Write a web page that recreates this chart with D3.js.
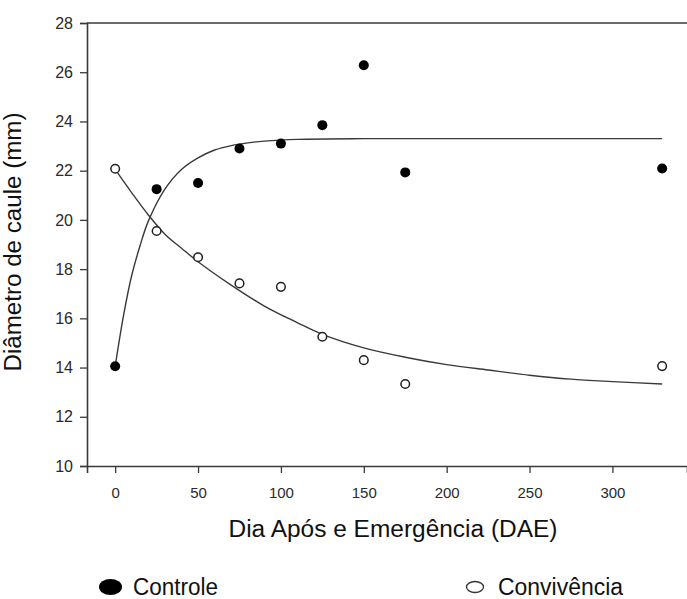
<!DOCTYPE html>
<html>
<head>
<meta charset="utf-8">
<script src="https://cdn.jsdelivr.net/npm/d3@7"></script>
<style>
  body { margin: 0; background: #fff; }
  svg { display: block; font-family: "Liberation Sans", Arial, sans-serif; }
</style>
</head>
<body>
<div id="container"></div>
<script>
// data
const days = [0, 25, 50, 75, 100, 125, 150, 175, 330]
const controle = [14.05, 21.25, 21.5, 22.9, 23.1, 23.85, 26.28, 21.93, 22.09]
const convivencia = [22.08, 19.55, 18.48, 17.42, 17.28, 15.25, 14.3, 13.33, 14.06]

// fitted curves
const fitDaysControle = [0, 5, 10, 15, 20, 30, 40, 50, 60, 70, 80, 90, 110, 150, 200, 250, 330]
const fitControle = [14.05, 16.1, 17.75, 18.95, 19.95, 21.25, 22.05, 22.52, 22.84, 23.02, 23.13, 23.2, 23.27, 23.3, 23.3, 23.3, 23.3]
const fitDaysConv = [0, 10, 20, 30, 40, 50, 70, 90, 110, 125, 150, 175, 200, 225, 250, 275, 300, 330]
const fitConv = [22.05, 21.1, 20.2, 19.42, 18.85, 18.3, 17.35, 16.5, 15.82, 15.35, 14.8, 14.42, 14.12, 13.9, 13.69, 13.53, 13.43, 13.33]

const xTicks = [0, 50, 100, 150, 200, 250, 300]
const yTicks = [10, 12, 14, 16, 18, 20, 22, 24, 26, 28]

const width = 687, height = 599
const margin = { top: 23, right: 0, bottom: 133, left: 87 }

const svg = d3.select("#container")
	.append("svg")
	.attr("width", width)
	.attr("height", height)

const x = d3.scaleLinear().domain([-17, 345]).range([margin.left, width - margin.right])
const y = d3.scaleLinear().domain([10, 28]).range([height - margin.bottom, margin.top])

const ink = "#3a3a3a"

// axes
const gx = svg.append("g")
	.attr("transform", `translate(0,${y(10)})`)
	.call(d3.axisBottom(x).tickValues(xTicks).tickSizeOuter(0).tickSize(7).tickPadding(14))
gx.select(".domain").attr("stroke", ink).attr("stroke-width", 1.6)
gx.selectAll(".tick line").attr("stroke", ink).attr("stroke-width", 1.3)
gx.selectAll(".tick text").attr("font-size", 15).attr("fill", "#2a2a2a").attr("font-family", "Liberation Sans, Arial")

const gy = svg.append("g")
	.attr("transform", `translate(${x(-17)},0)`)
	.call(d3.axisLeft(y).tickValues(yTicks).tickSizeOuter(0).tickSize(7).tickPadding(7))
gy.select(".domain").attr("stroke", ink).attr("stroke-width", 1.6)
gy.selectAll(".tick line").attr("stroke", ink).attr("stroke-width", 1.3)
gy.selectAll(".tick text").attr("font-size", 16).attr("fill", "#2a2a2a").attr("font-family", "Liberation Sans, Arial")

// top frame line
svg.append("line")
	.attr("x1", x(-17)).attr("x2", x(345))
	.attr("y1", y(28)).attr("y2", y(28))
	.attr("stroke", ink).attr("stroke-width", 1.6)

// fitted curves
const line = d3.line().x(d => x(d[0])).y(d => y(d[1])).curve(d3.curveCatmullRom.alpha(0.5))
svg.append("path")
	.datum(d3.zip(fitDaysControle, fitControle))
	.attr("d", line)
	.attr("fill", "none").attr("stroke", ink).attr("stroke-width", 1.4)
svg.append("path")
	.datum(d3.zip(fitDaysConv, fitConv))
	.attr("d", line)
	.attr("fill", "none").attr("stroke", ink).attr("stroke-width", 1.4)

// points
svg.append("g").selectAll("circle")
	.data(d3.zip(days, controle))
	.join("circle")
	.attr("cx", d => x(d[0])).attr("cy", d => y(d[1]))
	.attr("r", 5).attr("fill", "#000")

svg.append("g").selectAll("circle")
	.data(d3.zip(days, convivencia))
	.join("circle")
	.attr("cx", d => x(d[0])).attr("cy", d => y(d[1]))
	.attr("r", 4.3).attr("fill", "#fff").attr("stroke", "#222").attr("stroke-width", 1.5)

// axis titles
svg.append("text")
	.attr("x", 393).attr("y", 537)
	.attr("text-anchor", "middle")
	.attr("font-size", 23)
	.attr("textLength", 329).attr("lengthAdjust", "spacingAndGlyphs")
	.attr("fill", "#111")
	.text("Dia Após e Emergência (DAE)")

svg.append("text")
	.attr("transform", "translate(21,242) rotate(-90)")
	.attr("text-anchor", "middle")
	.attr("font-size", 23)
	.attr("textLength", 259).attr("lengthAdjust", "spacingAndGlyphs")
	.attr("fill", "#111")
	.text("Diâmetro de caule (mm)")

// legend
svg.append("ellipse")
	.attr("cx", 110.5).attr("cy", 587).attr("rx", 11.5).attr("ry", 8)
	.attr("fill", "#000")
svg.append("text")
	.attr("x", 133).attr("y", 595)
	.attr("font-size", 23)
	.attr("textLength", 85).attr("lengthAdjust", "spacingAndGlyphs")
	.attr("fill", "#111")
	.text("Controle")

svg.append("ellipse")
	.attr("cx", 475).attr("cy", 587).attr("rx", 8.5).attr("ry", 5.5)
	.attr("fill", "#fff").attr("stroke", "#333").attr("stroke-width", 1.3)
svg.append("text")
	.attr("x", 498).attr("y", 595)
	.attr("font-size", 23)
	.attr("textLength", 125).attr("lengthAdjust", "spacingAndGlyphs")
	.attr("fill", "#111")
	.text("Convivência")
</script>
</body>
</html>
